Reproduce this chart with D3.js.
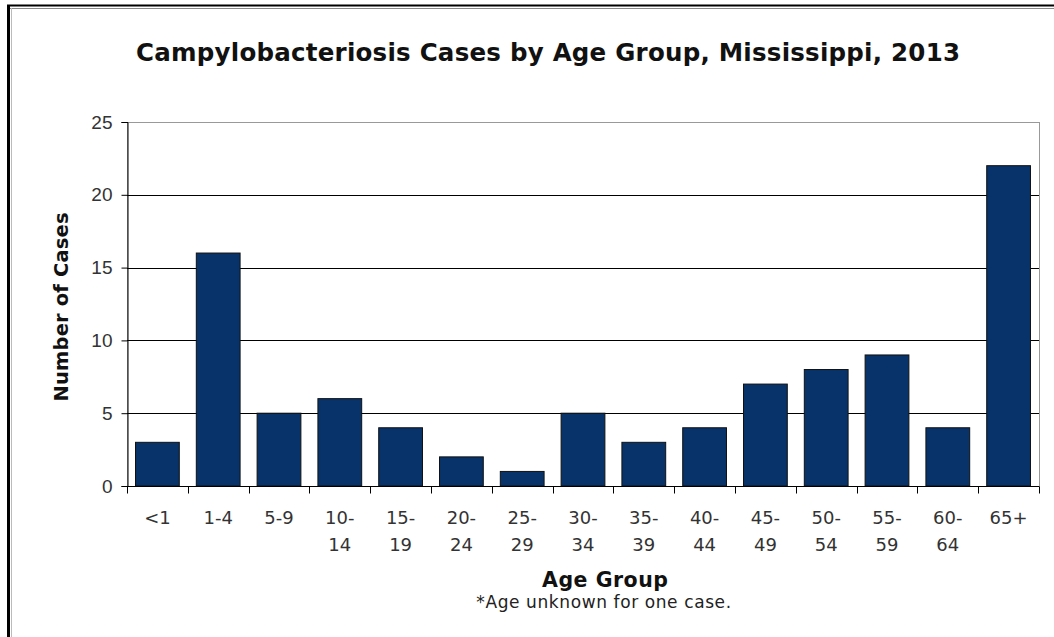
<!DOCTYPE html>
<html>
<head>
<meta charset="utf-8">
<script src="https://cdn.jsdelivr.net/npm/d3@7"></script>
<style>
  html, body { margin: 0; padding: 0; background: #fff; }
  svg { display: block; }
</style>
</head>
<body>
<svg id="chart" width="1054" height="637"></svg>
<script>
const categories = ["<1", "1-4", "5-9", "10-14", "15-19", "20-24", "25-29", "30-34", "35-39", "40-44", "45-49", "50-54", "55-59", "60-64", "65+"];
const cases = [3, 16, 5, 6, 4, 2, 1, 5, 3, 4, 7, 8, 9, 4, 22];
const yTicks = [0, 5, 10, 15, 20, 25];
const titleText = "Campylobacteriosis Cases by Age Group, Mississippi, 2013";
const yTitle = "Number of Cases";
const xTitle = "Age Group";
const footnote = "*Age unknown for one case.";

const svg = d3.select("#chart");
const W = 1054, H = 637;
const m = { left: 127, right: 1039, top: 122, bottom: 486 };
const geo = "'DejaVu Sans', 'Noto Sans', sans-serif";

// page frame (double line at top, heavy line at left)
svg.append("line").attr("x1", 7).attr("x2", W).attr("y1", 5.5).attr("y2", 5.5).attr("stroke", "#000").attr("stroke-width", 2);
svg.append("line").attr("x1", 10).attr("x2", W).attr("y1", 8.5).attr("y2", 8.5).attr("stroke", "#888").attr("stroke-width", 1);
svg.append("line").attr("x1", 8.5).attr("x2", 8.5).attr("y1", 5).attr("y2", H).attr("stroke", "#000").attr("stroke-width", 3);
svg.append("line").attr("x1", 11.5).attr("x2", 11.5).attr("y1", 8).attr("y2", H).attr("stroke", "#bbb").attr("stroke-width", 1);

const x = d3.scaleBand().domain(categories).range([m.left, m.right]).paddingInner(0.28).paddingOuter(0.14);
const y = d3.scaleLinear().domain([0, 25]).range([m.bottom, m.top]);

// plot area border (gray top/right)
svg.append("rect").attr("x", m.left).attr("y", m.top).attr("width", m.right - m.left).attr("height", m.bottom - m.top)
  .attr("fill", "none").attr("stroke", "#999").attr("stroke-width", 1).attr("shape-rendering", "crispEdges");

// gridlines
svg.append("g").selectAll("line").data(yTicks.filter(t => t > 0 && t < 25)).join("line")
  .attr("x1", m.left).attr("x2", m.right)
  .attr("y1", d => Math.round(y(d)) + 0.5).attr("y2", d => Math.round(y(d)) + 0.5)
  .attr("stroke", "#000").attr("stroke-width", 1);

// bars
svg.append("g").selectAll("rect").data(categories).join("rect")
  .attr("x", d => x(d)).attr("width", x.bandwidth())
  .attr("y", (d, i) => y(cases[i])).attr("height", (d, i) => y(0) - y(cases[i]))
  .attr("fill", "#07336a").attr("stroke", "#111").attr("stroke-width", 1);

// y axis
const yAxis = d3.axisLeft(y).tickValues(yTicks).tickSize(6).tickPadding(9);
const gy = svg.append("g").attr("transform", `translate(${m.left + 0.5},0)`).call(yAxis);
gy.select(".domain").attr("stroke", "#000");
gy.selectAll(".tick line").attr("stroke", "#000");
gy.selectAll(".tick text").attr("font-family", "'Liberation Sans', Arial, sans-serif").attr("font-size", 19).attr("fill", "#333");

// x axis with ticks at category boundaries
const gx = svg.append("g").attr("transform", `translate(0,${m.bottom + 0.5})`);
gx.append("line").attr("x1", m.left).attr("x2", m.right).attr("stroke", "#000");
const step = x.step();
const bounds = d3.range(categories.length + 1).map(i => x(categories[0]) - x.paddingOuter() * step + i * step);
gx.selectAll("line.tk").data(bounds).join("line").attr("class", "tk")
  .attr("x1", d => Math.round(d) + 0.5).attr("x2", d => Math.round(d) + 0.5).attr("y1", 0).attr("y2", 7).attr("stroke", "#000");
const lab = gx.selectAll("text").data(categories).join("text")
  .attr("x", d => x(d) + x.bandwidth() / 2).attr("y", 37)
  .attr("text-anchor", "middle").attr("font-family", geo).attr("font-size", 18).attr("fill", "#333");
lab.each(function(d) {
  const t = d3.select(this);
  const m2 = d.match(/^(\d+)-(\d+)$/);
  if (m2 && d.length > 3) {
    t.append("tspan").attr("x", t.attr("x")).text(m2[1] + "-");
    t.append("tspan").attr("x", t.attr("x")).attr("dy", 27).text(m2[2]);
  } else {
    t.text(d);
  }
});

// title
svg.append("text").attr("x", 548).attr("y", 61).attr("text-anchor", "middle")
  .attr("font-family", geo).attr("font-weight", "bold").attr("font-size", 24.5).attr("fill", "#111")
  .attr("textLength", 824).attr("lengthAdjust", "spacing").text(titleText);

// y title
svg.append("text").attr("transform", "translate(68,307) rotate(-90)").attr("text-anchor", "middle")
  .attr("font-family", geo).attr("font-weight", "bold").attr("font-size", 19.5).attr("fill", "#111")
  .attr("textLength", 189).attr("lengthAdjust", "spacing").text(yTitle);

// x title
svg.append("text").attr("x", 605).attr("y", 587).attr("text-anchor", "middle")
  .attr("font-family", geo).attr("font-weight", "bold").attr("font-size", 20.5).attr("fill", "#111")
  .attr("textLength", 126).attr("lengthAdjust", "spacing").text(xTitle);

// footnote
svg.append("text").attr("x", 604).attr("y", 608).attr("text-anchor", "middle")
  .attr("font-family", geo).attr("font-size", 17).attr("fill", "#222")
  .attr("letter-spacing", 0.6).text(footnote);
</script>
</body>
</html>
